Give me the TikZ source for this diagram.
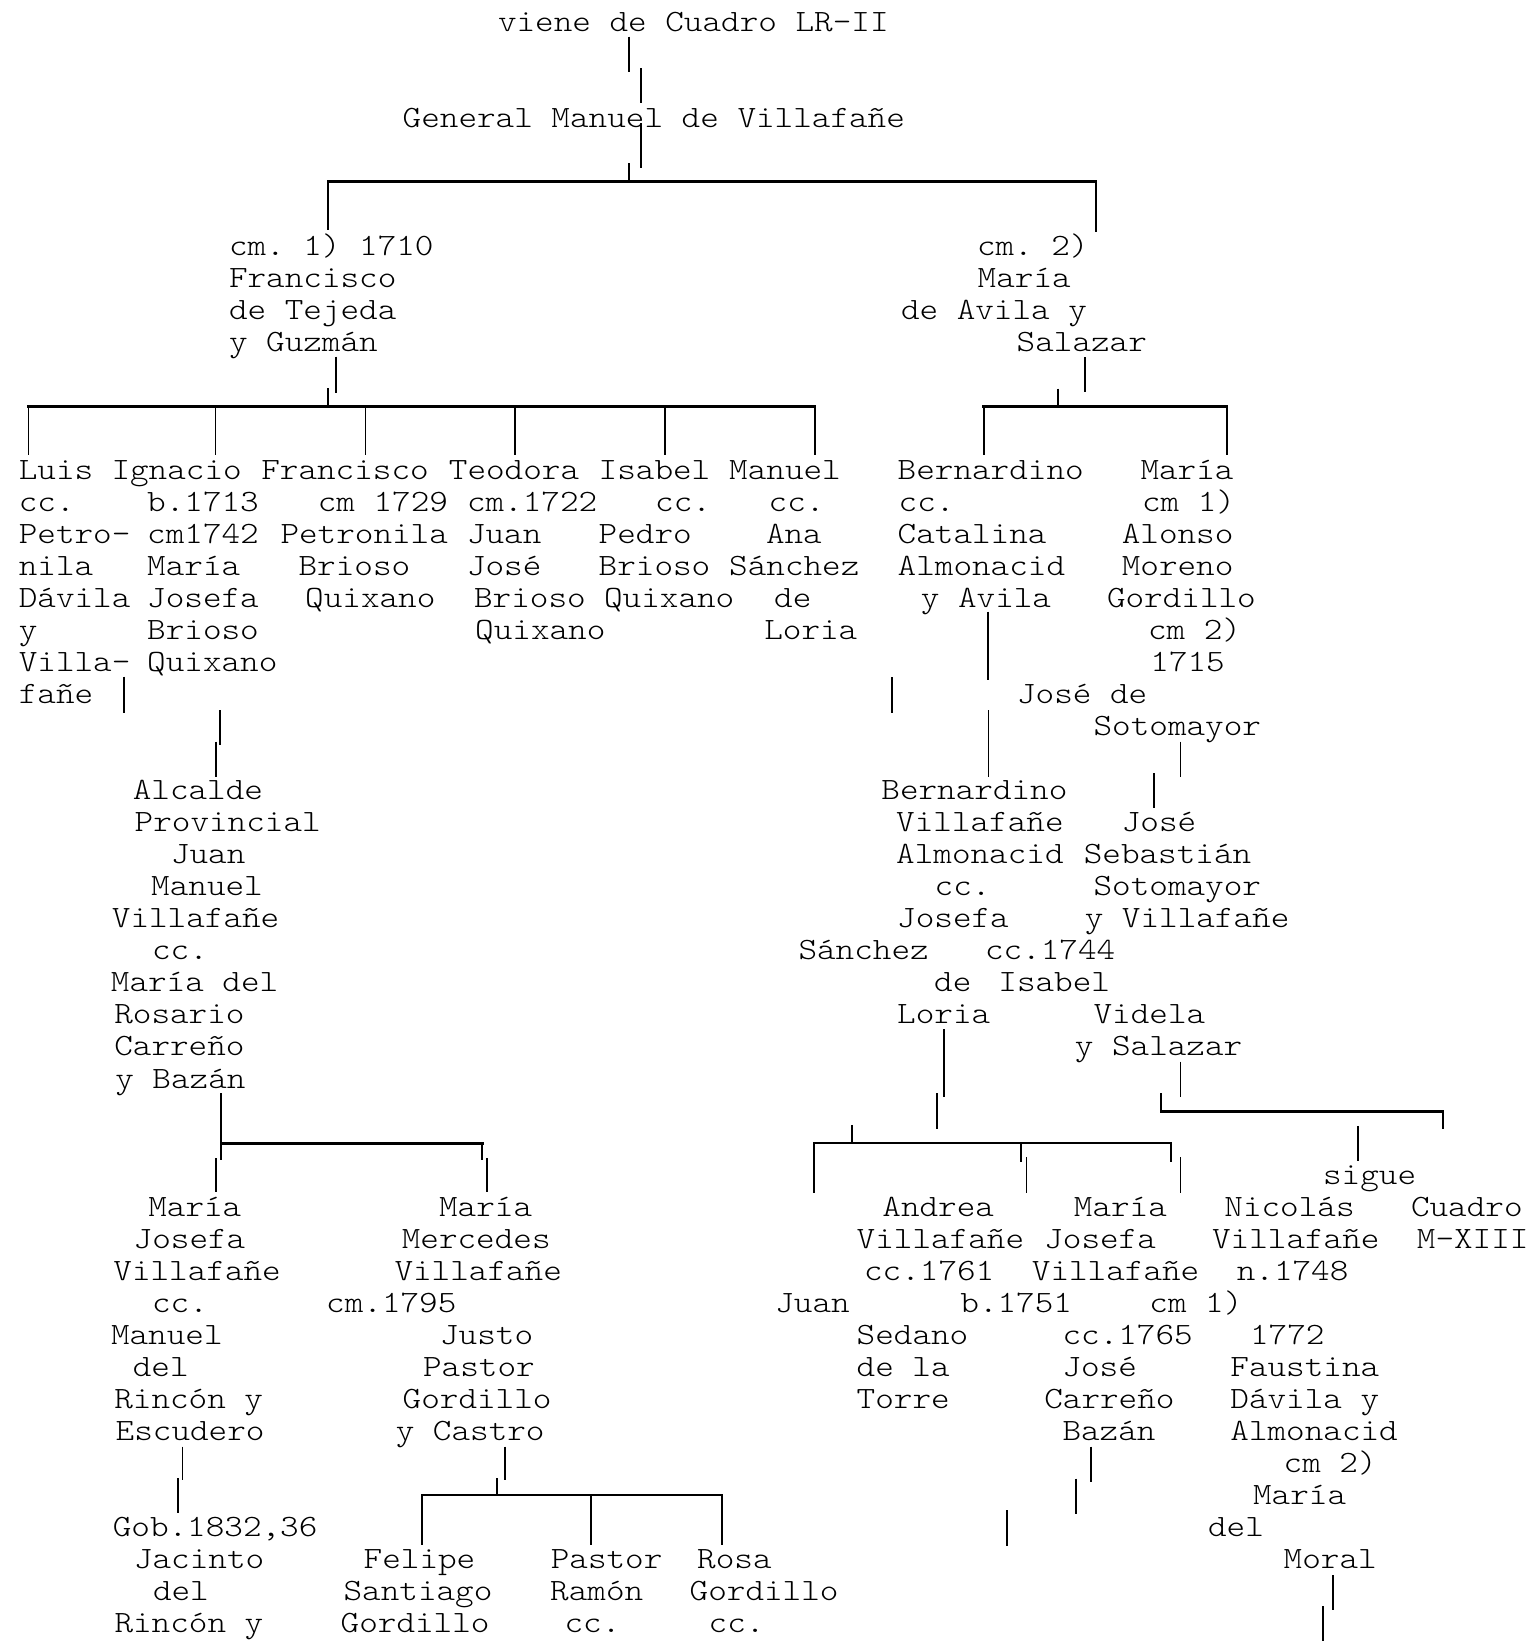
\documentclass[tikz,border=0pt]{standalone}
\usepackage{fontspec}
\newfontfamily\courfont[FakeStretch=1.143,WordSpace={1,0,0}]{lmmonolt10-regular.otf}
\newcount\tncount
\newcommand\mytxt[3]{\global\advance\tncount by 1\relax
  \node[txt] (t\the\tncount) at ({#1-2},{31+32.03*#2}) {#3};}
\newcommand\myv[3]{\draw[vline] (#1,#2) -- (#1,#3);}
\newcommand\myh[3]{\draw[hline] (#2,#1) -- (#3,#1);}
\tikzset{
  txt/.style={anchor=base west, inner sep=0pt, outer sep=0pt, font=\courfont\fontsize{31}{37}\selectfont\frenchspacing},
  vline/.style={line width=1.9pt},
  hline/.style={line width=2.5pt, line cap=rect}
}
\begin{document}
\begin{tikzpicture}[x=1pt,y=-1pt]
\fill[white] (0,0) rectangle (1534,1641);
\useasboundingbox (0,0) rectangle (1534,1641);
% ---------------- texts ----------------
\mytxt{500}{0}{viene de Cuadro LR-II}
\mytxt{404.7}{3}{General Manuel de Villafañe}
\mytxt{231}{7}{cm. 1) 1710}
\mytxt{979}{7}{cm. 2)}
\mytxt{231}{8}{Francisco}
\mytxt{979.7}{8}{María}
\mytxt{231}{9}{de Tejeda}
\mytxt{903}{9}{de Avila y}
\mytxt{231}{10}{y Guzmán}
\mytxt{1018.7}{10}{Salazar}
% row 14
\mytxt{20.8}{14}{Luis}
\mytxt{113.5}{14}{Ignacio}
\mytxt{263.3}{14}{Francisco}
\mytxt{450.9}{14}{Teodora}
\mytxt{600.7}{14}{Isabel}
\mytxt{731.2}{14}{Manuel}
\mytxt{899.7}{14}{Bernardino}
\mytxt{1142.5}{14}{María}
% row 15
\mytxt{20.8}{15}{cc.}
\mytxt{149.2}{15}{b.1713}
\mytxt{319.8}{15}{cm 1729}
\mytxt{469}{15}{cm.1722}
\mytxt{657.2}{15}{cc.}
\mytxt{770.7}{15}{cc.}
\mytxt{900.7}{15}{cc.}
\mytxt{1144}{15}{cm 1)}
% row 16
\mytxt{20.8}{16}{Petro-}
\mytxt{149.2}{16}{cm1742}
\mytxt{282.5}{16}{Petronila}
\mytxt{469}{16}{Juan}
\mytxt{600.7}{16}{Pedro}
\mytxt{768}{16}{Ana}
\mytxt{899.7}{16}{Catalina}
\mytxt{1123.8}{16}{Alonso}
% row 17
\mytxt{20.8}{17}{nila}
\mytxt{149.2}{17}{María}
\mytxt{300.6}{17}{Brioso}
\mytxt{469}{17}{José}
\mytxt{600.7}{17}{Brioso}
\mytxt{731.2}{17}{Sánchez}
\mytxt{899.7}{17}{Almonacid}
\mytxt{1123.8}{17}{Moreno}
% row 18
\mytxt{20.8}{18}{Dávila}
\mytxt{149.2}{18}{Josefa}
\mytxt{307.2}{18}{Quixano}
\mytxt{476.1}{18}{Brioso}
\mytxt{606.1}{18}{Quixano}
\mytxt{776.2}{18}{de}
\mytxt{922.9}{18}{y Avila}
\mytxt{1109}{18}{Gordillo}
% row 19
\mytxt{20.8}{19}{y}
\mytxt{149.2}{19}{Brioso}
\mytxt{477.2}{19}{Quixano}
\mytxt{766.3}{19}{Loria}
\mytxt{1150}{19}{cm 2)}
% row 20
\mytxt{20.8}{20}{Villa-}
\mytxt{149.2}{20}{Quixano}
\mytxt{1152.4}{20}{1715}
% row 21-22
\mytxt{20.8}{21}{fañe}
\mytxt{1019.1}{21}{José de}
\mytxt{1095.6}{22}{Sotomayor}
% rows 24-33
\mytxt{134.8}{24}{Alcalde}
\mytxt{883.4}{24}{Bernardino}
\mytxt{136.7}{25}{Provincial}
\mytxt{898.2}{25}{Villafañe}
\mytxt{1123.8}{25}{José}
\mytxt{173}{26}{Juan}
\mytxt{898.2}{26}{Almonacid}
\mytxt{1085.8}{26}{Sebastián}
\mytxt{153.2}{27}{Manuel}
\mytxt{936.7}{27}{cc.}
\mytxt{1095.6}{27}{Sotomayor}
\mytxt{113.9}{28}{Villafañe}
\mytxt{899.2}{28}{Josefa}
\mytxt{1086.8}{28}{y Villafañe}
\mytxt{154.1}{29}{cc.}
\mytxt{800.5}{29}{Sánchez}
\mytxt{987}{29}{cc.1744}
\mytxt{112.9}{30}{María del}
\mytxt{936.2}{30}{de}
\mytxt{1000.4}{30}{Isabel}
\mytxt{116.3}{31}{Rosario}
\mytxt{899.2}{31}{Loria}
\mytxt{1095.6}{31}{Videla}
\mytxt{116.3}{32}{Carreño}
\mytxt{1076.9}{32}{y Salazar}
\mytxt{117.3}{33}{y Bazán}
% rows 36-44
\mytxt{1325.1}{36}{sigue}
\mytxt{150.3}{37}{María}
\mytxt{441.1}{37}{María}
\mytxt{884.4}{37}{Andrea}
\mytxt{1075.9}{37}{María}
\mytxt{1226.4}{37}{Nicolás}
\mytxt{1413}{37}{Cuadro}
\mytxt{135.7}{38}{Josefa}
\mytxt{403.8}{38}{Mercedes}
\mytxt{858.7}{38}{Villafañe}
\mytxt{1046.3}{38}{Josefa}
\mytxt{1214.1}{38}{Villafañe}
\mytxt{1418.9}{38}{M-XIII}
\mytxt{115.4}{39}{Villafañe}
\mytxt{396.5}{39}{Villafañe}
\mytxt{866.1}{39}{cc.1761}
\mytxt{1033.9}{39}{Villafañe}
\mytxt{1238.8}{39}{n.1748}
\mytxt{154.1}{40}{cc.}
\mytxt{328.2}{40}{cm.1795}
\mytxt{777.3}{40}{Juan}
\mytxt{962.4}{40}{b.1751}
\mytxt{1151.4}{40}{cm 1)}
\mytxt{113}{41}{Manuel}
\mytxt{442.1}{41}{Justo}
\mytxt{858.7}{41}{Sedano}
\mytxt{1064.5}{41}{cc.1765}
\mytxt{1252.1}{41}{1772}
\mytxt{134.8}{42}{del}
\mytxt{425.1}{42}{Pastor}
\mytxt{858.7}{42}{de la}
\mytxt{1064.5}{42}{José}
\mytxt{1232.4}{42}{Faustina}
\mytxt{116.3}{43}{Rincón y}
\mytxt{404.7}{43}{Gordillo}
\mytxt{858.7}{43}{Torre}
\mytxt{1046.3}{43}{Carreño}
\mytxt{1232.4}{43}{Dávila y}
\mytxt{117.7}{44}{Escudero}
\mytxt{397.8}{44}{y Castro}
\mytxt{1064.5}{44}{Bazán}
\mytxt{1232.4}{44}{Almonacid}
% rows 45-50
\mytxt{1285.7}{45}{cm 2)}
\mytxt{1255.1}{46}{María}
\mytxt{114.8}{47}{Gob.1832,36}
\mytxt{1210.1}{47}{del}
\mytxt{136}{48}{Jacinto}
\mytxt{365.7}{48}{Felipe}
\mytxt{552.8}{48}{Pastor}
\mytxt{699.2}{48}{Rosa}
\mytxt{1285.7}{48}{Moral}
\mytxt{155}{49}{del}
\mytxt{345.6}{49}{Santiago}
\mytxt{552.2}{49}{Ramón}
\mytxt{691.7}{49}{Gordillo}
\mytxt{116.5}{50}{Rincón y}
\mytxt{342.7}{50}{Gordillo}
\mytxt{566.6}{50}{cc.}
\mytxt{710.7}{50}{cc.}
% ---------------- connectors ----------------
% top
\myv{628.6}{36.7}{71.7}
\myv{641.2}{68.3}{103.3}
\myv{641.2}{123.3}{168.3}
\myv{628.6}{163.3}{181.7}
\myh{181.7}{328.4}{1096}
\myv{328.4}{181.7}{230}
\myv{1096}{181.7}{231.7}
% first marriage children
\myv{335.8}{356.7}{393.3}
\myv{328.4}{388}{406.7}
\myh{406.7}{28.5}{814.8}
\foreach \xx in {28.5,215.5,365.5,515.3,664.8,814.8}{\myv{\xx}{406.7}{455}}
% second marriage children
\myv{1085.3}{357.3}{391.7}
\myv{1058.3}{388.7}{406.7}
\myh{406.7}{983.6}{1226.6}
\myv{983.6}{406.7}{455}
\myv{1226.6}{406.7}{455}
% Luis, Ignacio
\myv{124}{676.7}{713.3}
\myv{220}{710}{745}
\myv{215.7}{741.7}{776.7}
% Juan Manuel children
\myv{221}{1093}{1160}
\myh{1143.3}{221}{482.3}
\myv{482.3}{1143.3}{1160}
\myv{215.7}{1158.3}{1191.7}
\myv{487.2}{1158.3}{1191.7}
% Escudero
\myv{182.5}{1446.7}{1480}
\myv{178}{1478}{1513.3}
% Castro children
\myv{505.2}{1446.7}{1480}
\myv{497.1}{1478.3}{1495}
\myh{1495}{421.9}{721.6}
\foreach \xx in {421.9,590.7,721.6}{\myv{\xx}{1495}{1545}}
% Bernardino line
\myv{988}{611.7}{680}
\myv{892.3}{677.3}{713.3}
\myv{988.5}{710}{776.7}
% Sotomayor
\myv{1180.5}{741.7}{776.7}
\myv{1153.9}{773.3}{808.3}
% Loria
\myv{944.1}{1029.3}{1096.7}
\myv{936.7}{1093.3}{1129.4}
% Salazar
\myv{1180.5}{1061.7}{1096.7}
\myv{1161.3}{1093.3}{1111.5}
\myh{1111.5}{1161.3}{1442.6}
\myv{1442.6}{1111.5}{1129.4}
% children of Bernardino Villafane Almonacid
\myv{852.3}{1124.9}{1143.2}
\myh{1143.2}{814.3}{1171.2}
\myv{814.3}{1143.2}{1193.3}
\myv{1020.6}{1143.2}{1161.5}
\myv{1171.2}{1143.2}{1161.5}
\myv{1026.5}{1157}{1193.3}
\myv{1180.5}{1157}{1193.3}
% Nicolas
\myv{1358.2}{1125.9}{1160.5}
% Bazan right
\myv{1090.7}{1446.7}{1482}
\myv{1076.4}{1478.5}{1513.8}
\myv{1006.8}{1510.3}{1545.9}
% Moral
\myv{1332.6}{1575.3}{1609.8}
\myv{1323.2}{1606.4}{1641}
\end{tikzpicture}
\end{document}
